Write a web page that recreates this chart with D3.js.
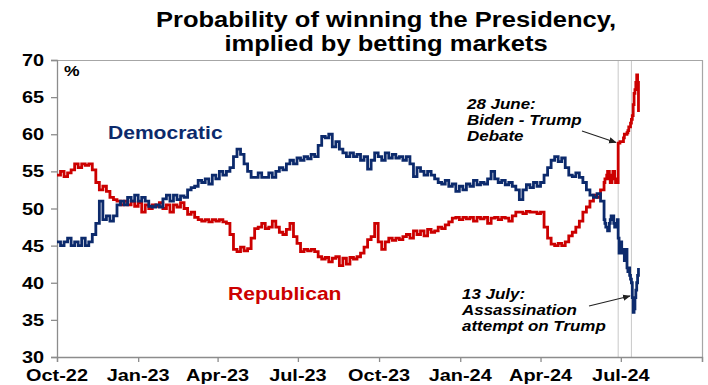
<!DOCTYPE html>
<html><head><meta charset="utf-8">
<script src="https://cdn.jsdelivr.net/npm/d3@7"></script>
<style>
html,body{margin:0;padding:0;background:#fff;}
svg{display:block;font-family:"Liberation Sans",Arial,sans-serif;}
</style></head>
<body><svg id="c" width="708" height="385"></svg>
<script>
// ---- data ----
const mainStart = "2022-10-01";   // main section: one reading every 4 days
const mainStepDays = 4;
const demMain = [
 45.5,45,45.5,46,45,45.5,45,46,45,45.5,
 46.5,48,51,48.5,49,48.3,49,50.5,51,50.5,
 51.5,51,51.8,51,51.5,51,50.3,50.2,50.5,50.2,
 51.3,51.8,51,51.8,51.2,51.7,51.5,52.5,52.8,53,
 53.8,53.5,54,53.3,54.5,54,55,54.5,55,55.5,
 57,58,57.3,56,55,54.2,54.2,54.8,54.2,54.2,
 54.8,54.2,55,55.5,55.2,56,56.5,56,56.8,56.5,
 57,56.7,57.3,57,58.5,59.7,59.5,60,58.3,59,
 58,57.5,57,57.5,57,57.3,56.5,57,55.3,56.5,
 57.5,57,56.5,57.5,56.8,57.3,56.8,57,56.5,57,
 56,54.3,55.5,55,54.5,55,54.5,54,53.5,53.3,
 53.8,53,53.3,52.3,53,52.5,53.3,53,53.8,53.2,
 53.5,53.3,54,55,54,53.5,53.8,53.2,53.5,53,
 52.5,51.2,52.5,53.2,52.8,53.5,53,53.5,54.5,55.5,
 56.5,57,56.3,56.8,55.5,54.5,54.3,54.8,54.2,53.5,
 52.5,51.8,51.5,52,51,48.5
];
const repMain = [
 54.5,55,54.3,54.8,55.2,56,55.5,56,55.8,56,
 55.2,53.5,52.5,53,52.3,51.5,51.2,51,50.5,51,
 50.5,51,50.3,50.8,49.5,50.5,50,50.5,50.3,50.8,
 50,50.5,49.5,50.5,50.2,50.8,50,49.2,49.5,48.8,
 48.5,48.3,48.5,48.2,48.5,48.3,48.5,48.2,48,46.5,
 44.5,44.2,44.8,44.3,44.6,46,47.3,47.5,48,47.3,
 47.5,48.3,47.5,46.8,46.5,47.2,48,46.2,45.3,44.2,
 44.5,44.3,44.5,44.2,43.5,43.2,43.4,42.8,43.3,43.5,
 42.3,43.3,42.5,43.4,43.2,43.5,44,44.8,45.8,46.2,
 48,45.5,44.5,45.5,46,45.7,46,45.8,46.2,46.5,
 46,47,46.5,47,46.3,47.2,46.8,47,47.5,47.3,
 47.8,48.2,48.7,48.8,48.5,48.8,48.6,48.8,48.3,48.8,
 48.6,48.8,48,48.7,48.8,48.5,48.8,48.7,48.3,49,
 49.5,49.5,49.3,49.6,49.5,49.5,49.3,49.5,47.5,46,
 45.2,45,45.3,45,45.5,46.3,46.8,47.5,48.3,49.5,
 50.2,51,51.8,51.5,52.5,53.5
];
const tailStart = "2024-06-13";   // final section: daily readings to 21 July 2024
const demTail = [48,47.5,47.5,47,47,48,48.5,49,49,49,48,47.5,47.5,48,48.5,
 46,44,45.5,45.5,44,44,44.5,43,43,44.5,42,41.5,42,41,40.5,40,38,36,36.5,38,39,40,41,42];
const repTail = [54,54,54.5,55,55,54,53.5,53.5,54.5,55,55,54,53.5,53.5,53.5,
 58.8,58.8,59,59,59,59,59.5,60,60,60,60.2,60.5,61,61,61.5,62,62.5,64,65.5,66,67,68,67,63];

const xTickLabels = ["Oct-22","Jan-23","Apr-23","Jul-23","Oct-23","Jan-24","Apr-24","Jul-24",""];
const xTickDates = ["2022-10-01","2023-01-01","2023-04-01","2023-07-01","2023-10-01","2024-01-01","2024-04-01","2024-07-01","2024-10-01"];
const yTicks = [30,35,40,45,50,55,60,65,70];
const eventDates = ["2024-06-28","2024-07-13"];
const titleLines = ["Probability of winning the Presidency,","implied by betting markets"];
const seriesNames = ["Democratic","Republican"];
const note1 = ["28 June:","Biden - Trump","Debate"];
const note2 = ["13 July:","Assassination","attempt on Trump"];

// ---- build ----
const parse = d3.timeParse("%Y-%m-%d");
function build(main, tail){
  const s = parse(mainStart), t = parse(tailStart);
  const a = main.map((v,i)=>({d:d3.timeDay.offset(s, i*mainStepDays), v}));
  tail.forEach((v,i)=>a.push({d:d3.timeDay.offset(t,i), v}));
  return a;
}
const dem = build(demMain, demTail), rep = build(repMain, repTail);

const svg = d3.select("#c");
const L=57, R=702, T=60, B=357;
const x = d3.scaleTime().domain([parse("2022-10-01"), parse("2024-10-01")]).range([L,R]);
const y = d3.scaleLinear().domain([30,70]).range([B,T]);
const SX = 1.17;
const ink="#000", axisCol="#8c8c8c";

function txt(g, str, px, py, opt){
  return g.append("text").attr("transform",`translate(${px},${py}) scale(${opt.sx||SX},1)`)
    .attr("text-anchor",opt.anchor||"start")
    .attr("font-size",opt.size).attr("font-weight",opt.weight||"bold")
    .attr("font-style",opt.style||"normal").attr("fill",opt.fill||ink).text(str);
}

// title
titleLines.forEach((s,i)=>txt(svg,s,386,27+i*24,{size:22,anchor:"middle",sx:1.16}));

// event lines
svg.append("g").selectAll("line").data(eventDates).join("line")
  .attr("x1",d=>x(parse(d))).attr("x2",d=>x(parse(d))).attr("y1",T).attr("y2",B)
  .attr("stroke","#c8c8c8").attr("stroke-width",1);

// frame top/right
svg.append("path").attr("d",`M${L},${T+0.5}H${R+0.5}V${B}`).attr("fill","none").attr("stroke","#a6a6a6").attr("stroke-width",1.2);

// axes
const yAx = svg.append("g").attr("transform",`translate(${L},0)`)
  .call(d3.axisLeft(y).tickValues(yTicks).tickSize(6).tickFormat(""));
const xAx = svg.append("g").attr("transform",`translate(0,${B})`)
  .call(d3.axisBottom(x).tickValues(xTickDates.map(parse)).tickSize(5).tickFormat(""));
[yAx,xAx].forEach(g=>{g.selectAll("path,line").attr("stroke",axisCol).attr("stroke-width",1.3);});

yTicks.forEach(v=>txt(svg,String(v),44,y(v)+6,{size:17,anchor:"end"}));
xTickDates.forEach((d,i)=>{ if(xTickLabels[i]) txt(svg,xTickLabels[i],x(parse(d)),381,{size:17,anchor:"middle"}); });
txt(svg,"%",64,76,{size:15});

// lines
const line = d3.line().x(d=>x(d.d)).y(d=>y(d.v)).curve(d3.curveStepAfter);
svg.append("path").datum(rep).attr("d",line).attr("fill","none").attr("stroke","#cc0000").attr("stroke-width",2.8);
svg.append("path").datum(dem).attr("d",line).attr("fill","none").attr("stroke","#0c2a6c").attr("stroke-width",2.8);

// series labels
txt(svg,seriesNames[0],108,139,{size:18,fill:"#0c2a6c"});
txt(svg,seriesNames[1],228,300,{size:18,fill:"#cc0000"});

// annotations
note1.forEach((s,i)=>txt(svg,s,467,109+i*16,{size:14.5,style:"italic"}));
note2.forEach((s,i)=>txt(svg,s,462,299+i*16,{size:14.5,style:"italic"}));

svg.append("defs").append("marker").attr("id","ah").attr("viewBox","0 0 10 10")
  .attr("refX",9).attr("refY",5).attr("markerWidth",7).attr("markerHeight",7).attr("orient","auto")
  .append("path").attr("d","M0,1L10,5L0,9z").attr("fill","#222");
svg.append("line").attr("x1",582).attr("y1",131).attr("x2",616).attr("y2",142.5)
  .attr("stroke","#222").attr("stroke-width",1.1).attr("marker-end","url(#ah)");
svg.append("line").attr("x1",589).attr("y1",306).attr("x2",630).attr("y2",296)
  .attr("stroke","#222").attr("stroke-width",1.1).attr("marker-end","url(#ah)");
</script></body></html>
